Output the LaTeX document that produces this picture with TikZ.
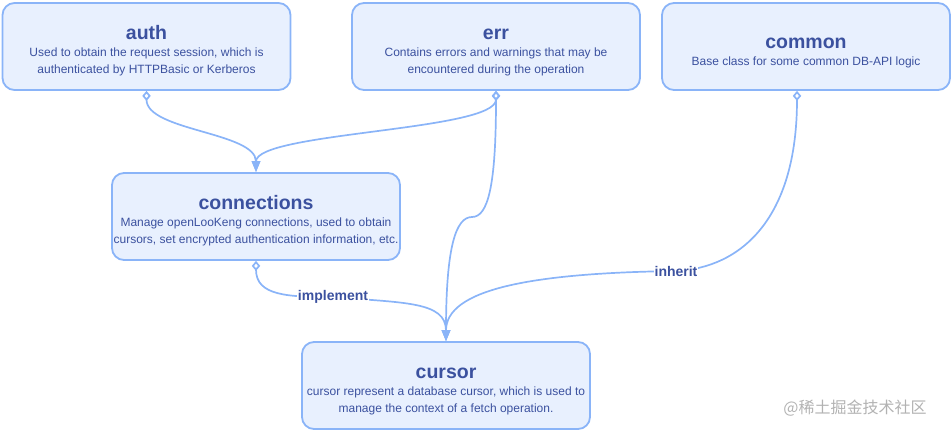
\documentclass[tikz,border=0pt]{standalone}
\usepackage{fontspec}
\setmainfont{Liberation Sans}
\newfontfamily\cjkfont{Noto Sans CJK SC}
\usetikzlibrary{arrows.meta,positioning}

\definecolor{boxfill}{HTML}{E8F0FE}
\definecolor{boxline}{HTML}{8AB4F8}
\definecolor{textblue}{HTML}{3B519F}
\definecolor{markgray}{HTML}{B2B2B2}

\newcommand{\modtitle}[1]{{\rule{0pt}{23pt}\fontsize{19.5}{22}\selectfont\bfseries #1}}
\newcommand{\moddesc}{\fontsize{12}{17}\selectfont}

\tikzset{
  module/.style={draw=boxline, fill=boxfill, line width=1.8pt, rounded corners=12pt,
    minimum width=288pt, minimum height=87pt, align=center, text=textblue,
    font=\moddesc, inner sep=0pt},
  link/.style={draw=boxline, line width=1.7pt,
    {Diamond[open,length=10pt,width=8.5pt]}-{Triangle[length=11pt,width=8.5pt]}},
  linklabel/.style={fill=white, text=textblue, inner sep=1pt,
    font=\fontsize{14}{16}\selectfont\bfseries}
}

\begin{document}
\begin{tikzpicture}[x=1pt, y=-1pt, line cap=round, line join=round]
  \useasboundingbox (0,0) rectangle (952,433);

  % modules
  \node[module] (auth) at (146.5,46.5)
    {\modtitle{auth}\\Used to obtain the request session, which is\\authenticated by HTTPBasic or Kerberos};
  \node[module] (err) at (496,46.5)
    {\modtitle{err}\\Contains errors and warnings that may be\\encountered during the operation};
  \node[module] (common) at (806,46.5)
    {\modtitle{common}\\Base class for some common DB-API logic};
  \node[module] (conn) at (256,216.5)
    {\modtitle{connections}\\Manage openLooKeng connections, used to obtain\\cursors, set encrypted authentication information, etc.};
  \node[module] (cursor) at (446,385.5)
    {\modtitle{cursor}\\cursor represent a database cursor, which is used to\\manage the context of a fetch operation.};

  % bend points
  \coordinate (errbend) at (472,217);
  \coordinate (implpt) at (333,297);
  \coordinate (inhpt) at (676,271);

  % connectors
  \draw[link] (auth.south) .. controls +(0,40) and +(0,-40) .. (conn.north);
  \draw[link] (err.south) .. controls +(0,40) and +(0,-40) .. (conn.north);
  \draw[link] (err.south) .. controls +(0,95) and +(16,0) .. (errbend)
    .. controls +(-16,0) and +(0,-95) .. (cursor.north);
  \draw[link] (conn.south) .. controls +(0,35) and +(-45,0) .. (implpt)
    .. controls +(70,6) and +(0,-40) .. (cursor.north);
  \draw[link] ([xshift=-9pt]common.south) .. controls +(0,129) and +(64,-3) .. (inhpt)
    .. controls +(-148,2) and +(0,-51) .. (cursor.north);

  % labels
  \node[linklabel] (impl) at (implpt) {implement};
  \node[linklabel] (inh) at (inhpt) {inherit};

  % watermark
  \node[text=markgray, font=\cjkfont\fontsize{16}{18}\selectfont] (mark) at (855,408) {@稀土掘金技术社区};
\end{tikzpicture}
\end{document}
